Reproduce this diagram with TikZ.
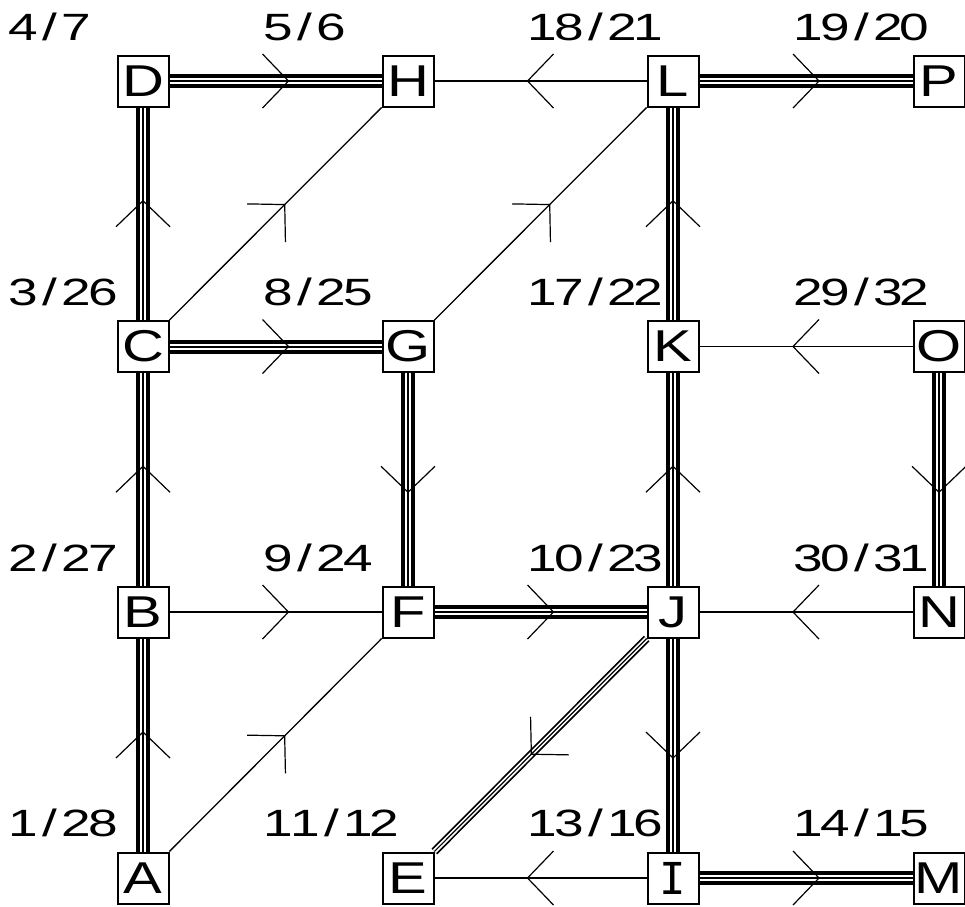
\documentclass[tikz,border=0pt]{standalone}
\usepackage{fontspec}
\setmainfont{Liberation Sans}
\newfontfamily\nodefam[FakeStretch=1.3]{Liberation Sans}
\newfontfamily\nodefamI{DejaVu Sans Mono}
\newfontfamily\labfam[FakeStretch=1.4]{Liberation Sans}
\usetikzlibrary{decorations.markings}
\makeatletter
\newcommand\monolab[1]{\@tfor\mc@c:=#1\do{\makebox[26.5pt]{\mc@c}}}
\makeatother
\newcommand\edg[3]{\draw[#1] (#2) -- (#3); \path[chev] (#2) -- (#3);}
\begin{document}
\begin{tikzpicture}[x=1pt,y=-1pt,
  nbox/.style={draw, line width=2pt, minimum size=51pt, inner sep=0pt, fill=white, font=\nodefam\fontsize{44.6}{50}\selectfont},
  lab/.style={inner sep=0pt, anchor=base west, font=\labfam\fontsize{38}{44}\selectfont},
  thick3/.style={line width=14pt, postaction={draw, white, line width=6pt}, postaction={draw, black, line width=2pt}},
  thin3/.style={line width=8pt, postaction={draw, white, line width=4.5pt}, postaction={draw, black, line width=1.2pt}},
  thinline/.style={line width=1.3pt},
  chev/.style={decorate, decoration={markings, mark=at position 0.5 with {\draw[line width=1.2pt] (-13pt,27pt) -- (13pt,0pt) -- (-13pt,-27pt);}}}
]
\useasboundingbox (0,0) rectangle (965,906);
% nodes
\node[nbox] (D) at (143,81) {D};
\node[nbox] (H) at (408,81) {H};
\node[nbox] (L) at (673,81) {L};
\node[nbox] (P) at (939,81) {P};
\node[nbox] (C) at (143,346.5) {C};
\node[nbox] (G) at (408,346.5) {G};
\node[nbox] (K) at (673,346.5) {K};
\node[nbox] (O) at (939,346.5) {O};
\node[nbox] (B) at (143,612) {B};
\node[nbox] (F) at (408,612) {F};
\node[nbox] (J) at (673,612) {J};
\node[nbox] (N) at (939,612) {N};
\node[nbox] (A) at (143,878) {A};
\node[nbox] (E) at (408,878) {E};
\node[nbox, font=\nodefamI\fontsize{44}{50}\selectfont] (I) at (673,878) {I};
\node[nbox] (M) at (939,878) {M};
% labels
\node[lab] (lD) at (10,40) {\monolab{4/7}};
\node[lab] (lH) at (265,40) {\monolab{5/6}};
\node[lab] (lL) at (529,40) {\monolab{18/21}};
\node[lab] (lP) at (795,40) {\monolab{19/20}};
\node[lab] (lC) at (10,305.7) {\monolab{3/26}};
\node[lab] (lG) at (265,305.7) {\monolab{8/25}};
\node[lab] (lK) at (529,305.7) {\monolab{17/22}};
\node[lab] (lO) at (795,305.7) {\monolab{29/32}};
\node[lab] (lB) at (10,571.3) {\monolab{2/27}};
\node[lab] (lF) at (265,571.3) {\monolab{9/24}};
\node[lab] (lJ) at (529,571.3) {\monolab{10/23}};
\node[lab] (lN) at (795,571.3) {\monolab{30/31}};
\node[lab] (lA) at (10,836.7) {\monolab{1/28}};
\node[lab] (lE) at (265,836.7) {\monolab{11/12}};
\node[lab] (lI) at (529,836.7) {\monolab{13/16}};
\node[lab] (lM) at (795,836.7) {\monolab{14/15}};
% tree edges (triple lines)
\edg{thick3}{D}{H}
\edg{thick3}{C}{D}
\edg{thick3}{C}{G}
\edg{thick3}{B}{C}
\edg{thick3}{A}{B}
\edg{thick3}{G}{F}
\edg{thick3}{F}{J}
\edg{thick3}{L}{P}
\edg{thick3}{K}{L}
\edg{thick3}{J}{K}
\edg{thick3}{J}{I}
\edg{thick3}{I}{M}
\edg{thick3}{O}{N}
\edg{thin3}{J}{E}
% other edges
\edg{thinline}{L}{H}
\edg{thinline}{C}{H}
\edg{thinline}{G}{L}
\edg{thinline}{O}{K}
\edg{thinline}{B}{F}
\edg{thinline}{A}{F}
\edg{thinline}{N}{J}
\edg{thinline}{I}{E}
\end{tikzpicture}
\end{document}
